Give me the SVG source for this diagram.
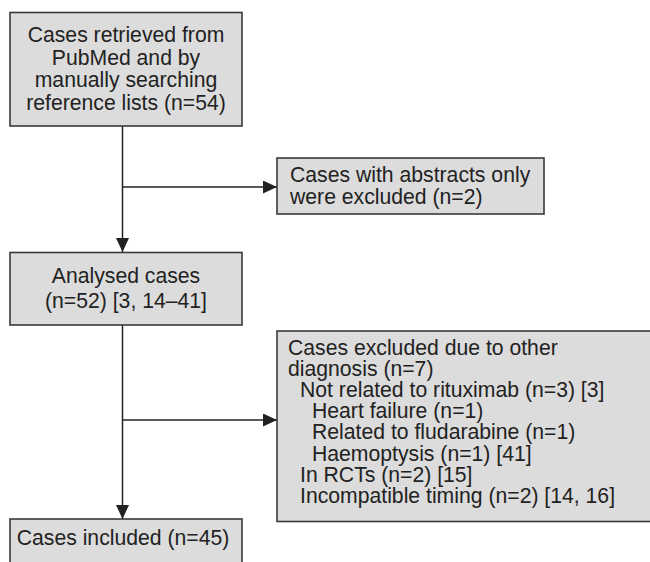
<svg xmlns="http://www.w3.org/2000/svg" width="650" height="562" viewBox="0 0 650 562">
<style>
.box{fill:#dcdcdc;stroke:#3a3a3a;stroke-width:1.6}
.t{font-family:"Liberation Sans",Arial,sans-serif;font-size:21.2px;fill:#222}
.c{text-anchor:middle}
.ln{stroke:#222;stroke-width:1.5;fill:none}
</style>
<defs>
<marker id="ah" markerWidth="14" markerHeight="13" refX="14" refY="6.5" orient="auto" markerUnits="userSpaceOnUse">
<path d="M0,0 L14,6.5 L0,13 Z" fill="#222"/>
</marker>
</defs>
<rect width="650" height="562" fill="#fff"/>
<g id="connectors">
<line class="ln" x1="122.5" y1="126" x2="122.5" y2="252" marker-end="url(#ah)"/>
<line class="ln" x1="122.5" y1="187" x2="277" y2="187" marker-end="url(#ah)"/>
<line class="ln" x1="122.5" y1="325" x2="122.5" y2="519" marker-end="url(#ah)"/>
<line class="ln" x1="122.5" y1="420" x2="277" y2="420" marker-end="url(#ah)"/>
</g>
<g id="n1">
<rect class="box" x="10" y="12.5" width="232" height="113.5"/>
<text class="t c" x="126" y="42">Cases retrieved from</text>
<text class="t c" x="126" y="64.5">PubMed and by</text>
<text class="t c" x="126" y="87">manually searching</text>
<text class="t c" x="126" y="109.5">reference lists (n=54)</text>
</g>
<g id="n2">
<rect class="box" x="277" y="158" width="267" height="56"/>
<text class="t" x="290" y="181.5">Cases with abstracts only</text>
<text class="t" x="290" y="203.5">were excluded (n=2)</text>
</g>
<g id="n3">
<rect class="box" x="10" y="252.5" width="232" height="72.5"/>
<text class="t c" x="126" y="283">Analysed cases</text>
<text class="t c" x="126" y="308">(n=52) [3, 14–41]</text>
</g>
<g id="n4">
<rect class="box" x="277" y="331" width="380" height="190.5"/>
<text class="t" x="288" y="355">Cases excluded due to other</text>
<text class="t" x="288" y="376">diagnosis (n=7)</text>
<text class="t" x="300" y="397">Not related to rituximab (n=3) [3]</text>
<text class="t" x="312" y="418">Heart failure (n=1)</text>
<text class="t" x="312" y="439">Related to fludarabine (n=1)</text>
<text class="t" x="312" y="461">Haemoptysis (n=1) [41]</text>
<text class="t" x="300" y="482">In RCTs (n=2) [15]</text>
<text class="t" x="300" y="503">Incompatible timing (n=2) [14, 16]</text>
</g>
<g id="n5">
<rect class="box" x="10" y="519" width="232" height="60"/>
<text class="t c" x="123" y="545">Cases included (n=45)</text>
</g>
</svg>
